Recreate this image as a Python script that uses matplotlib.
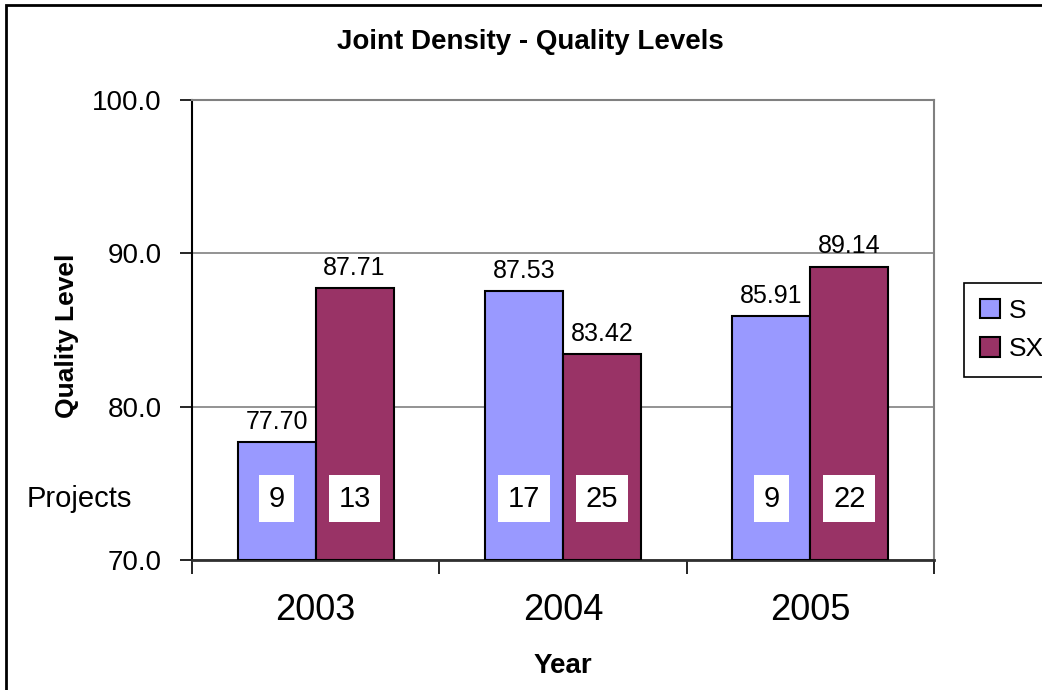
import matplotlib.pyplot as plt
import matplotlib.patches as patches
import numpy as np

plt.rcParams['font.family'] = ['Liberation Sans', 'DejaVu Sans']

# data
years = ['2003', '2004', '2005']
s_vals = [77.70, 87.53, 85.91]
sx_vals = [87.71, 83.42, 89.14]
s_projects = [9, 17, 9]
sx_projects = [13, 25, 22]

s_color = '#9999FF'
sx_color = '#993366'

fig = plt.figure(figsize=(10.42, 6.9), dpi=100)
ax = fig.add_axes([192/1042, 130/690, (934-192)/1042, 460/690])

x = np.arange(len(years))
w = 0.315
bars_s = ax.bar(x - w/2, [v - 70 for v in s_vals], w, bottom=70, color=s_color,
                edgecolor='black', linewidth=1.5, label='S', zorder=3)
bars_sx = ax.bar(x + w/2, [v - 70 for v in sx_vals], w, bottom=70, color=sx_color,
                 edgecolor='black', linewidth=1.5, label='SX', zorder=3)

# value labels over bars
for xi, v in zip(x - w/2, s_vals):
    ax.annotate('%.2f' % v, (xi, v), xytext=(0, 6), textcoords='offset points',
                ha='center', va='bottom', fontsize=18, zorder=4)
for xi, v in zip(x + w/2, sx_vals):
    ax.annotate('%.2f' % v, (xi, v), xytext=(0, 6), textcoords='offset points',
                ha='center', va='bottom', fontsize=18, zorder=4)

# project counts in white boxes
box = dict(facecolor='white', edgecolor='none', boxstyle='square,pad=0.33')
for xi, n in zip(x - w/2, s_projects):
    ax.text(xi, 74, str(n), ha='center', va='center', fontsize=21, bbox=box, zorder=5)
for xi, n in zip(x + w/2, sx_projects):
    ax.text(xi, 74, str(n), ha='center', va='center', fontsize=21, bbox=box, zorder=5)

ax.set_ylim(70, 100)
ax.set_xlim(-0.5, 2.5)
ax.set_yticks([70, 80, 90, 100])
ax.set_yticklabels(['%.1f' % t for t in [70, 80, 90, 100]], fontsize=20)
ax.set_xticks(x)
ax.set_xticklabels(years, fontsize=26)
ax.set_xticks([-0.5, 0.5, 1.5, 2.5], minor=True)
ax.tick_params(axis='x', which='major', length=0, pad=24)
ax.tick_params(axis='x', which='minor', length=10, width=1.2, color='black')
ax.tick_params(axis='y', length=9, width=1.2, pad=13)

ax.yaxis.grid(True, color='#808080', linewidth=1.2, zorder=0)
ax.set_axisbelow(True)
ax.spines['top'].set_color('#808080')
ax.spines['right'].set_color('#808080')
ax.spines['top'].set_linewidth(1.5)
ax.spines['right'].set_linewidth(1.5)
ax.spines['left'].set_linewidth(1.5)
ax.spines['bottom'].set_linewidth(2)
ax.spines['bottom'].set_color('#303030')

fig.text(530/1042, (690-42)/690, 'Joint Density - Quality Levels', ha='center', va='center',
         fontsize=20, fontweight='bold')
fig.text(67/1042, (690-336)/690, 'Quality Level', rotation=90, ha='center', va='center',
         fontsize=19, fontweight='bold')
fig.text(563/1042, (690-666)/690, 'Year', ha='center', va='center',
         fontsize=20, fontweight='bold')
fig.text(27/1042, (690-499)/690, 'Projects', ha='left', va='center', fontsize=21)

leg = fig.legend(handles=[bars_s, bars_sx], labels=['S', 'SX'], loc='upper left',
                 bbox_to_anchor=(964/1042, (690-283)/690), fontsize=19, frameon=True,
                 fancybox=False, edgecolor='black', framealpha=1, handlelength=0.75,
                 handleheight=0.75, handletextpad=0.35, labelspacing=0.55,
                 borderpad=0.6, borderaxespad=0)
leg.get_frame().set_linewidth(1.2)

# outer chart border
fig.patches.append(patches.Rectangle((6/1042, -0.1), 1.2, (690-5)/690 + 0.1,
                                     transform=fig.transFigure, fill=False,
                                     edgecolor='black', linewidth=2))

fig.savefig('out.png', dpi=100)
